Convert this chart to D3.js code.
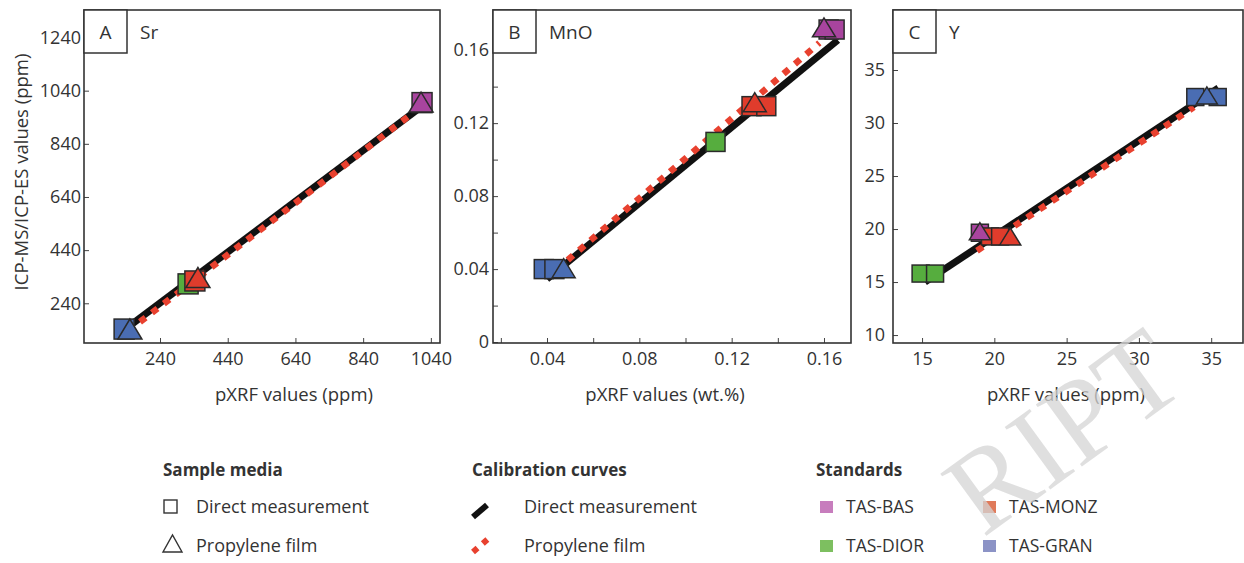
<!DOCTYPE html>
<html>
<head>
<meta charset="utf-8">
<script src="https://cdn.jsdelivr.net/npm/d3@7"></script>
<style>
  body { margin: 0; background: #fff; }
  svg { display: block; }
  text { font-family: 'Open Sans', sans-serif; fill: #333; }
</style>
</head>
<body>
<div id="chart"></div>
<script>
// reference standards
const standards = ['TAS-BAS', 'TAS-MONZ', 'TAS-DIOR', 'TAS-GRAN'];

// A - Sr (ppm): [standard, pXRF, ICP]
const srDirect = [['TAS-GRAN', 134, 143], ['TAS-DIOR', 323, 313], ['TAS-MONZ', 343, 324], ['TAS-BAS', 1014, 995]];
const srFilm = [['TAS-GRAN', 151, 143], ['TAS-MONZ', 352, 337], ['TAS-BAS', 1011, 997]];
const srCurveDirect = [[150, 155], [1012, 980]];
const srCurveFilm = [[181, 170], [987, 956]];
const srTicksX = [240, 440, 640, 840, 1040];
const srTicksY = [240, 440, 640, 840, 1040, 1240];

// B - MnO (wt.%)
const mnoDirect = [['TAS-GRAN', 0.0386, 0.040], ['TAS-GRAN', 0.0432, 0.040], ['TAS-DIOR', 0.113, 0.1097],
  ['TAS-MONZ', 0.1286, 0.1293], ['TAS-MONZ', 0.135, 0.1293], ['TAS-BAS', 0.162, 0.1713], ['TAS-BAS', 0.1646, 0.1713]];
const mnoFilm = [['TAS-GRAN', 0.0472, 0.0405], ['TAS-MONZ', 0.130, 0.1315], ['TAS-BAS', 0.160, 0.1725]];
const mnoCurveDirect = [[0.040, 0.0345], [0.166, 0.1655]];
const mnoCurveFilm = [[0.049, 0.045], [0.158, 0.164]];
const mnoTicksX = [0.02, 0.04, 0.06, 0.08, 0.10, 0.12, 0.14, 0.16];
const mnoTicksY = [0, 0.02, 0.04, 0.06, 0.08, 0.10, 0.12, 0.14, 0.16, 0.18];
const mnoLabels = [0, 0.04, 0.08, 0.12, 0.16];

// C - Y (ppm)
const yDirect = [['TAS-DIOR', 14.9, 15.8], ['TAS-DIOR', 15.9, 15.8], ['TAS-BAS', 19.0, 19.65],
  ['TAS-MONZ', 19.7, 19.3], ['TAS-MONZ', 20.4, 19.3], ['TAS-GRAN', 33.9, 32.45], ['TAS-GRAN', 35.45, 32.45]];
const yFilm = [['TAS-BAS', 19.0, 19.8], ['TAS-MONZ', 21.1, 19.3], ['TAS-GRAN', 34.7, 32.6]];
const yCurveDirect = [[15.2, 15.0], [35.5, 33.3]];
const yCurveFilm = [[18.8, 17.95], [33.8, 31.5]];
const yTicksX = [15, 20, 25, 30, 35];
const yTicksY = [10, 15, 20, 25, 30, 35];

const fillColor = { 'TAS-BAS': '#a8449e', 'TAS-MONZ': '#e03c2c', 'TAS-DIOR': '#56ad3e', 'TAS-GRAN': '#4a6db3' };
const legendColor = { 'TAS-BAS': '#c77dbd', 'TAS-MONZ': '#e07a5a', 'TAS-DIOR': '#7dbf60', 'TAS-GRAN': '#8c93c6' };

const width = 1244, height = 563;
const plotTop = 10, plotBottom = 343;

const isLabel = d => mnoLabels.some(v => Math.abs(v - d) < 1e-9);
const mnoFormat = d => isLabel(d) ? (d === 0 ? '0' : d3.format('.2f')(d)) : '';

const panels = [
  { id: 'A', name: 'Sr', left: 84, right: 440, xd: [15.5, 1067], yd: [90.6, 1343.5],
    direct: srDirect, film: srFilm, cDirect: srCurveDirect, cFilm: srCurveFilm,
    tx: srTicksX, ty: srTicksY, fx: d => d, fy: d => d, pad: 3, sq: 20,
    xTitle: 'pXRF values (ppm)', titleX: 294 },
  { id: 'B', name: 'MnO', left: 493, right: 851, xd: [0.0166, 0.1717], yd: [-0.0005, 0.182],
    direct: mnoDirect, film: mnoFilm, cDirect: mnoCurveDirect, cFilm: mnoCurveFilm,
    tx: mnoTicksX, ty: mnoTicksY, fx: mnoFormat, fy: mnoFormat,
    pad: 4, sq: 19, xTitle: 'pXRF values (wt.%)', titleX: 665 },
  { id: 'C', name: 'Y', left: 893, right: 1243, xd: [12.99, 37.2], yd: [9.25, 40.66],
    direct: yDirect, film: yFilm, cDirect: yCurveDirect, cFilm: yCurveFilm,
    tx: yTicksX, ty: yTicksY, fx: d => d, fy: d => d, pad: 8, sq: 17,
    xTitle: 'pXRF values (ppm)', titleX: 1066 }
];

const svg = d3.select('#chart').append('svg')
  .attr('width', width)
  .attr('height', height);

panels.forEach(p => {
  const x = d3.scaleLinear().domain(p.xd).range([p.left, p.right]);
  const y = d3.scaleLinear().domain(p.yd).range([plotBottom, plotTop]);
  const g = svg.append('g');

  // axes, ticks pointing inward
  const ax = g.append('g')
    .attr('transform', `translate(0,${plotBottom})`)
    .call(d3.axisBottom(x).tickValues(p.tx).tickSizeInner(-5).tickSizeOuter(0).tickPadding(9).tickFormat(p.fx));
  const ay = g.append('g')
    .attr('transform', `translate(${p.left},0)`)
    .call(d3.axisLeft(y).tickValues(p.ty).tickSizeInner(-5).tickSizeOuter(0).tickPadding(p.pad).tickFormat(p.fy));
  [ax, ay].forEach(a => {
    a.select('.domain').remove();
    a.selectAll('line').attr('stroke', '#444');
    a.selectAll('text').attr('font-size', 18).attr('fill', '#333')
      .style('font-family', "'Open Sans', sans-serif");
  });

  // frame
  g.append('rect')
    .attr('x', p.left).attr('y', plotTop)
    .attr('width', p.right - p.left).attr('height', plotBottom - plotTop)
    .attr('fill', 'none').attr('stroke', '#333').attr('stroke-width', 1.6);

  // calibration curves
  const line = d3.line().x(d => x(d[0])).y(d => y(d[1]));
  g.append('path').datum(p.cDirect)
    .attr('d', line).attr('stroke', '#111').attr('stroke-width', 7).attr('fill', 'none');
  g.append('path').datum(p.cFilm)
    .attr('d', line).attr('stroke', '#e8412f').attr('stroke-width', 6.5)
    .attr('stroke-dasharray', '7 8').attr('fill', 'none');

  // direct measurement: squares
  const s = p.sq;
  g.selectAll('rect.sq').data(p.direct).join('rect')
    .attr('class', 'sq')
    .attr('x', d => x(d[1]) - s / 2).attr('y', d => y(d[2]) - s / 2)
    .attr('width', s).attr('height', s)
    .attr('fill', d => fillColor[d[0]])
    .attr('stroke', '#2a2a2a').attr('stroke-width', 1.5);

  // propylene film: triangles
  const tw = s + 4, th = s;
  g.selectAll('path.tri').data(p.film).join('path')
    .attr('class', 'tri')
    .attr('d', d => {
      const cx = x(d[1]), cy = y(d[2]);
      return `M${cx - tw / 2},${cy + th / 2}L${cx + tw / 2},${cy + th / 2}L${cx},${cy - th / 2}Z`;
    })
    .attr('fill', d => fillColor[d[0]])
    .attr('stroke', '#2a2a2a').attr('stroke-width', 1.5);

  // panel label
  g.append('rect')
    .attr('x', p.left).attr('y', plotTop).attr('width', 43).attr('height', 43)
    .attr('fill', '#fff').attr('stroke', '#333').attr('stroke-width', 1.5);
  g.append('text')
    .attr('x', p.left + 21.5).attr('y', plotTop + 29)
    .attr('text-anchor', 'middle').attr('font-size', 19)
    .text(p.id);
  g.append('text')
    .attr('x', p.left + 56).attr('y', plotTop + 29)
    .attr('font-size', 19)
    .text(p.name);

  // x title
  g.append('text')
    .attr('x', p.titleX).attr('y', 401)
    .attr('text-anchor', 'middle').attr('font-size', 18.5)
    .text(p.xTitle);
});

// y title
svg.append('text')
  .attr('transform', 'translate(28,172) rotate(-90)')
  .attr('text-anchor', 'middle').attr('font-size', 18.5)
  .text('ICP-MS/ICP-ES values (ppm)');

// legend
const lg = svg.append('g');
const mediaLabels = ['Direct measurement', 'Propylene film'];
const rowY = [513, 552];

lg.append('text').attr('x', 163).attr('y', 476).attr('font-size', 17).attr('font-weight', 700).text('Sample media');
lg.append('rect').attr('x', 164).attr('y', 500).attr('width', 13).attr('height', 13)
  .attr('fill', 'none').attr('stroke', '#333').attr('stroke-width', 1.4);
lg.append('path').attr('d', 'M163,552L182,552L172.5,535Z')
  .attr('fill', 'none').attr('stroke', '#333').attr('stroke-width', 1.4);
lg.selectAll('text.media').data(mediaLabels).join('text')
  .attr('class', 'media').attr('x', 196).attr('y', (d, i) => rowY[i])
  .attr('font-size', 18).text(d => d);

lg.append('text').attr('x', 472).attr('y', 476).attr('font-size', 17).attr('font-weight', 700).text('Calibration curves');
lg.append('line').attr('x1', 473).attr('y1', 517).attr('x2', 487).attr('y2', 505)
  .attr('stroke', '#111').attr('stroke-width', 6);
lg.append('line').attr('x1', 473).attr('y1', 552).attr('x2', 488).attr('y2', 539)
  .attr('stroke', '#e8412f').attr('stroke-width', 6).attr('stroke-dasharray', '6 7');
lg.selectAll('text.curve').data(mediaLabels).join('text')
  .attr('class', 'curve').attr('x', 524).attr('y', (d, i) => rowY[i])
  .attr('font-size', 18).text(d => d);

lg.append('text').attr('x', 816).attr('y', 476).attr('font-size', 17).attr('font-weight', 700).text('Standards');
const stdPos = { 'TAS-BAS': [820, 0], 'TAS-MONZ': [983, 0], 'TAS-DIOR': [820, 1], 'TAS-GRAN': [983, 1] };
standards.forEach(sname => {
  const [sx, r] = stdPos[sname];
  lg.append('rect').attr('x', sx).attr('y', rowY[r] - 12).attr('width', 13).attr('height', 12)
    .attr('fill', legendColor[sname]);
  lg.append('text').attr('x', sx + 26).attr('y', rowY[r]).attr('font-size', 17.5).text(sname);
});

// watermark (visible part only), kept faint
svg.append('text')
  .attr('transform', 'translate(1190,388) rotate(-36)')
  .attr('text-anchor', 'end')
  .attr('font-size', 118)
  .style('font-family', "'Liberation Serif', serif")
  .style('fill', '#d4d4d4')
  .style('fill-opacity', 0.75)
  .text('RIPT');
</script>
</body>
</html>
